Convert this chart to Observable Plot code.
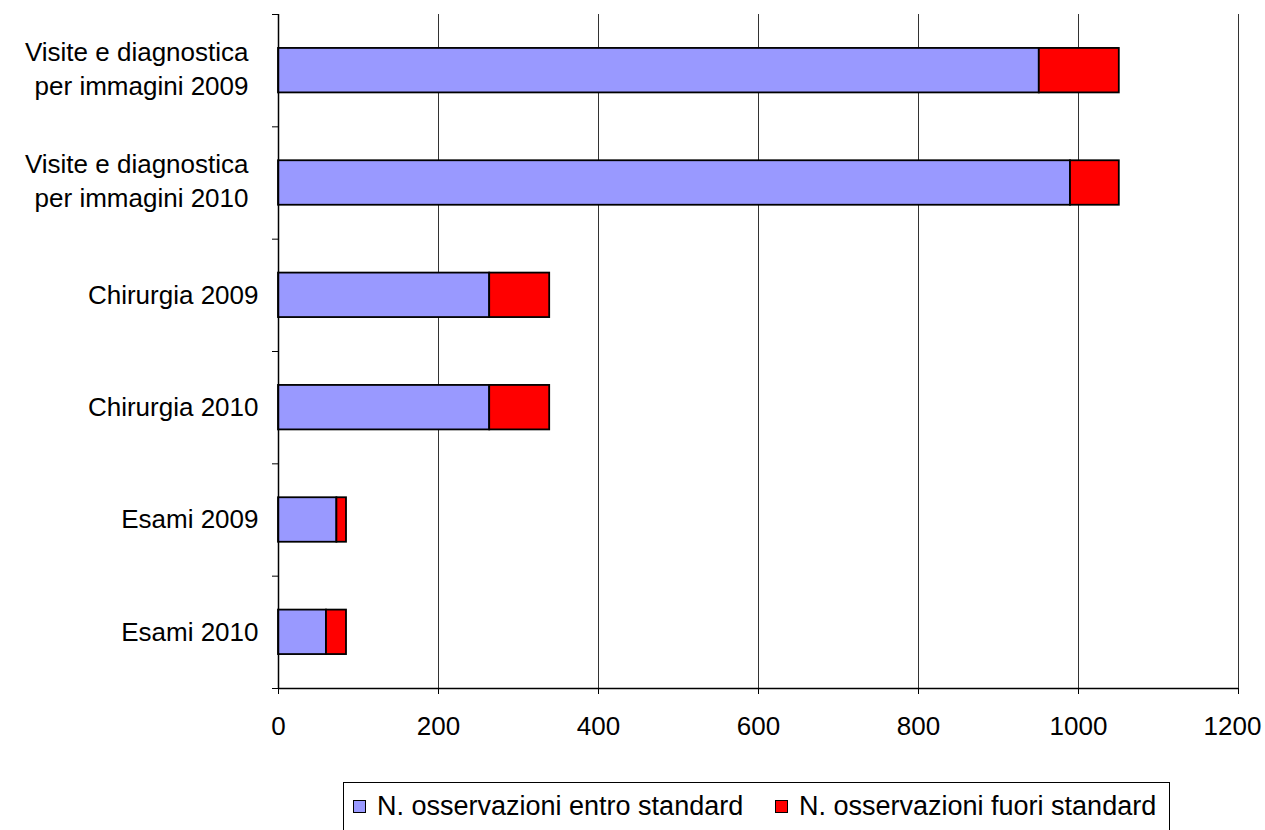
<!DOCTYPE html>
<html>
<head>
<meta charset="utf-8">
<script src="https://cdn.jsdelivr.net/npm/d3@7"></script>
<script src="https://cdn.jsdelivr.net/npm/@observablehq/plot@0.6"></script>
<style>
  body { margin: 0; background: #fff; font-family: "Liberation Sans", Arial, sans-serif; }
  #wrap { position: relative; width: 1265px; height: 830px; }
  #legend { position: absolute; left: 343px; top: 782px; width: 827px; height: 48px; border: 1px solid #000; border-bottom: none; box-sizing: border-box;
    font-size: 27px; color: #000; white-space: nowrap; }
  .item { position: absolute; top: 7px; display: flex; align-items: center; height: 32px; }
  .sw { display: inline-block; width: 13px; height: 13px; border: 1.5px solid #000; box-sizing: border-box; margin-right: 11px; }
</style>
</head>
<body>
<div id="wrap"><div id="chart"></div><div id="legend"></div></div>
<script>
const categories = [
  "Visite e diagnostica\nper immagini 2009",
  "Visite e diagnostica\nper immagini 2010",
  "Chirurgia 2009",
  "Chirurgia 2010",
  "Esami 2009",
  "Esami 2010"
];
const entroStandard = [951, 990, 264, 264, 73, 60];
const fuoriStandard = [100, 61, 75, 75, 12, 25];
const seriesNames = ["N. osservazioni entro standard", "N. osservazioni fuori standard"];
const seriesColors = ["#9999FF", "#FF0000"];
const xTicks = [0, 200, 400, 600, 800, 1000, 1200];

const rows = [];
categories.forEach((c, i) => {
  rows.push({cat: c, idx: i, series: seriesNames[0], x1: 0, x2: entroStandard[i]});
  rows.push({cat: c, idx: i, series: seriesNames[1], x1: entroStandard[i], x2: entroStandard[i] + fuoriStandard[i]});
});
const pad = 0.302;
const boundaries = d3.range(categories.length + 1);
const labelRows = categories.map((c, i) => ({c, i, multi: c.includes("\n")}));
const lastTick = xTicks[xTicks.length - 1];

const chart = Plot.plot({
  width: 1265,
  height: 748,
  marginLeft: 278,
  marginRight: 27,
  marginTop: 14,
  marginBottom: 60,
  style: {fontFamily: '"Liberation Sans", Arial, sans-serif', fontSize: "26px", color: "#000", background: "#fff"},
  x: {domain: [0, 1200], ticks: xTicks, label: null},
  y: {domain: [0, categories.length], reverse: true, label: null},
  color: {domain: seriesNames, range: seriesColors},
  marks: [
    Plot.ruleX(xTicks.filter(d => d > 0), {stroke: "#000", strokeWidth: 1, strokeOpacity: 0.8}),
    Plot.axisX({ticks: xTicks, tickSize: 6, tickFormat: () => ""}),
    Plot.axisX({ticks: xTicks.filter(d => d !== lastTick), tickSize: 0, tickPadding: 28, fontSize: 26, tickFormat: d => String(d)}),
    Plot.axisX({ticks: [lastTick], tickSize: 0, tickPadding: 28, fontSize: 26, dx: -6, tickFormat: d => String(d)}),
    Plot.axisY({ticks: boundaries, tickSize: 6, tickFormat: () => ""}),
    Plot.rectX(rows, {x1: "x1", x2: "x2", y1: d => d.idx + pad, y2: d => d.idx + 1 - pad, fill: "series", stroke: "#000", strokeWidth: 1.8}),
    Plot.ruleX([0], {stroke: "#000", strokeWidth: 1.5}),
    Plot.ruleY([categories.length], {stroke: "#000", strokeWidth: 1.5}),
    Plot.text(labelRows.filter(d => d.multi), {x: 0, y: d => d.i + 0.5, text: "c", textAnchor: "end", dx: -30, dy: -4, lineHeight: 1.31, fontSize: 26, fill: "#000"}),
    Plot.text(labelRows.filter(d => !d.multi), {x: 0, y: d => d.i + 0.5, text: "c", textAnchor: "end", dx: -20, fontSize: 26, fill: "#000"})
  ]
});
document.getElementById("chart").appendChild(chart);

const legend = document.getElementById("legend");
const itemLeft = [9, 431];
seriesNames.forEach((s, i) => {
  const item = document.createElement("div");
  item.className = "item";
  item.style.left = itemLeft[i] + "px";
  const sw = document.createElement("span");
  sw.className = "sw";
  sw.style.background = seriesColors[i];
  item.appendChild(sw);
  const t = document.createElement("span");
  t.textContent = s;
  item.appendChild(t);
  legend.appendChild(item);
});
</script>
</body>
</html>
